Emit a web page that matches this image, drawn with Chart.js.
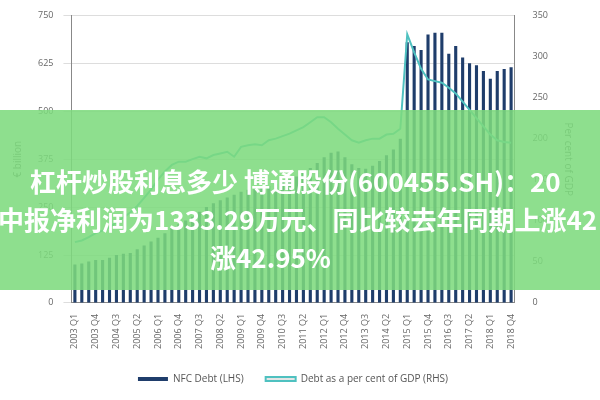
<!DOCTYPE html><html><head><meta charset="utf-8">
<script src="https://cdn.jsdelivr.net/npm/chart.js@4"></script>
<style>
body{margin:0;width:600px;height:400px;overflow:hidden;background:#fff;font-family:"Noto Sans CJK SC","Open Sans",sans-serif}
#wrap{position:absolute;left:0;top:0;width:600px;height:400px}
#banner{position:absolute;left:0;top:110px;width:600px;height:180px;background:rgba(125,218,125,0.87);overflow:hidden;color:#fff;font-weight:bold;font-size:26px;white-space:nowrap}
#banner div{position:absolute}
</style></head><body>
<div id="wrap"><canvas id="c" width="600" height="400"></canvas></div>
<div id="banner">
<div style="left:30px;top:52px">杠杆炒股利息多少 博通股份(600455.SH)：20</div>
<div style="left:-2px;top:90px">中报净利润为1333.29万元、同比较去年同期上涨42</div>
<div style="left:210px;top:128px">涨42.95%</div>
</div>
<script>
const years=[2003,2004,2005,2006,2007,2008,2009,2010,2011,2012,2013,2014,2015,2016,2017,2018];
const categories=[];years.forEach(y=>{for(let q=1;q<=4;q++)categories.push(y+' Q'+q);});
const nfcDebt=[100,103,108,112,112,118,125,128,130,140,150,160,170,182,195,205,215,225,238,250,260,268,275,282,290,295,298,300,305,310,318,322,330,340,352,365,380,392,395,380,362,352,350,358,370,385,400,428,680,670,660,700,705,705,650,670,640,625,620,605,585,605,610,615];
const debtPctGDP=[74,76,80,85,88,92,98,104,110,118,128,138,150,160,168,172,172,175,178,176,180,182,184,178,190,192,193,192,198,200,203,206,210,214,220,226,226,220,212,205,198,195,198,200,200,205,206,212,327,305,285,272,270,268,262,255,245,235,225,215,205,198,196,195];
const leftTicks=[0,125,250,375,500,625,750];
const rightTicks=[0,50,100,150,200,250,300,350];
new Chart(document.getElementById('c'),{
data:{labels:categories,datasets:[
{type:'line',label:'Debt as a per cent of GDP (RHS)',data:debtPctGDP,yAxisID:'y2',borderColor:'#4fc1c0',borderWidth:2,pointRadius:0,tension:0},
{type:'bar',label:'NFC Debt (LHS)',data:nfcDebt,yAxisID:'y',backgroundColor:'#1f3d6b',barPercentage:0.45,categoryPercentage:1}
]},
options:{responsive:false,animation:false,
layout:{padding:{left:8,right:22,top:6,bottom:6}},
plugins:{legend:{position:'bottom',reverse:true,labels:{boxWidth:30,boxHeight:4,font:{size:10,family:'Open Sans'},color:'#555',padding:22}},tooltip:{enabled:false}},
scales:{
x:{grid:{display:false},border:{color:'#888'},ticks:{autoSkip:false,maxRotation:90,minRotation:90,font:{size:9,family:'Open Sans'},color:'#666',callback:(v,i)=>i%3===0?categories[i]:''}},
y:{min:0,max:750,afterBuildTicks:a=>{a.ticks=leftTicks.map(v=>({value:v}))},grid:{color:'#ddd'},border:{color:'#888'},ticks:{font:{size:9,family:'Open Sans'},color:'#666',padding:10},title:{display:true,text:'€ billion',font:{size:10,family:'Open Sans'},color:'#666'}},
y2:{position:'right',min:0,max:350,afterBuildTicks:a=>{a.ticks=rightTicks.map(v=>({value:v}))},grid:{display:false},border:{color:'#888'},ticks:{font:{size:9,family:'Open Sans'},color:'#666',padding:10},title:{display:true,text:'Per cent of GDP',font:{size:10,family:'Open Sans'},color:'#666'}}
}}});
</script></body></html>
